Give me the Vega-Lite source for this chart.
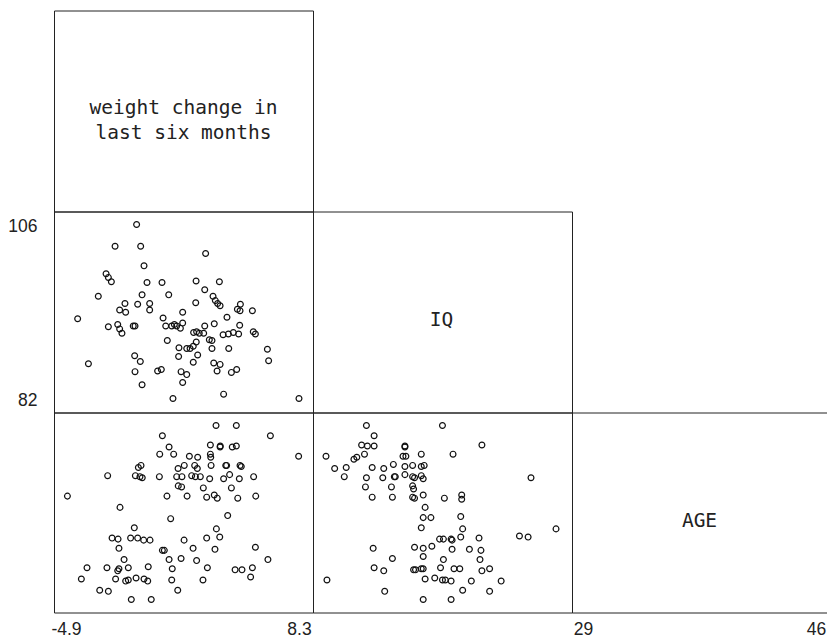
{
  "$schema": "https://vega.github.io/schema/vega-lite/v6.json",
  "padding": {"left": 7, "top": 9.5, "right": 0, "bottom": 0},
  "background": "white",
  "config": {
    "view": {"stroke": "#222", "strokeWidth": 1},
    "axis": {"domain": false, "ticks": false, "grid": false, "labelFont": "Liberation Sans", "labelFontSize": 17.5, "labelColor": "#222", "title": null},
    "text": {"font": "DejaVu Sans Mono", "fontSize": 19.5, "color": "#222"}
  },
  "datasets": {
    "wiq": [
      {"w": -0.9, "iq": 106.0}, {"w": -2.12, "iq": 103.0}, {"w": -0.67, "iq": 103.0}, {"w": 3.01, "iq": 102.0}, {"w": -0.48, "iq": 100.3},
      {"w": -2.63, "iq": 99.2}, {"w": -2.5, "iq": 98.7}, {"w": -2.33, "iq": 98.1}, {"w": -0.31, "iq": 98.0}, {"w": 0.54, "iq": 98.0},
      {"w": 2.47, "iq": 98.2}, {"w": 3.79, "iq": 98.1}, {"w": 2.96, "iq": 97.0}, {"w": -0.59, "iq": 96.3}, {"w": 0.92, "iq": 96.3},
      {"w": -3.07, "iq": 96.1}, {"w": 3.43, "iq": 96.1}, {"w": 3.56, "iq": 95.5}, {"w": 3.69, "iq": 95.1}, {"w": 3.83, "iq": 94.8},
      {"w": -1.56, "iq": 95.1}, {"w": -0.84, "iq": 95.0}, {"w": -0.16, "iq": 95.1}, {"w": 2.45, "iq": 95.2}, {"w": 4.98, "iq": 95.0},
      {"w": 4.81, "iq": 94.3}, {"w": 4.96, "iq": 94.1}, {"w": 5.66, "iq": 94.1}, {"w": -1.86, "iq": 94.2}, {"w": -1.52, "iq": 93.9},
      {"w": -0.16, "iq": 94.2}, {"w": 1.71, "iq": 93.9}, {"w": -4.24, "iq": 93.0}, {"w": 0.6, "iq": 93.1}, {"w": 4.22, "iq": 93.2},
      {"w": -2.5, "iq": 91.9}, {"w": -1.97, "iq": 92.2}, {"w": -1.86, "iq": 91.6}, {"w": -1.73, "iq": 91.0}, {"w": -1.09, "iq": 92.0},
      {"w": -0.99, "iq": 92.0}, {"w": 0.75, "iq": 92.0}, {"w": 1.09, "iq": 92.0}, {"w": 1.24, "iq": 92.2}, {"w": 1.37, "iq": 92.0},
      {"w": 1.58, "iq": 91.7}, {"w": 1.71, "iq": 92.4}, {"w": 2.96, "iq": 92.0}, {"w": 3.5, "iq": 92.3}, {"w": 4.94, "iq": 92.1},
      {"w": 2.33, "iq": 91.1}, {"w": 2.5, "iq": 91.2}, {"w": 2.65, "iq": 91.0}, {"w": 2.9, "iq": 91.0}, {"w": 4.0, "iq": 90.8},
      {"w": 4.3, "iq": 90.9}, {"w": 4.58, "iq": 91.1}, {"w": 4.88, "iq": 90.9}, {"w": 5.71, "iq": 91.2}, {"w": 5.83, "iq": 90.9},
      {"w": 3.22, "iq": 90.1}, {"w": 3.37, "iq": 90.0}, {"w": 2.48, "iq": 89.8}, {"w": 0.84, "iq": 90.0}, {"w": 1.5, "iq": 89.0},
      {"w": 1.94, "iq": 88.9}, {"w": 2.13, "iq": 88.9}, {"w": 2.31, "iq": 89.2}, {"w": 3.37, "iq": 88.9}, {"w": 4.32, "iq": 88.9},
      {"w": 6.51, "iq": 88.8}, {"w": -1.01, "iq": 87.9}, {"w": 1.48, "iq": 87.8}, {"w": 2.56, "iq": 88.0}, {"w": -3.63, "iq": 86.8},
      {"w": -0.69, "iq": 87.1}, {"w": 2.31, "iq": 87.0}, {"w": 3.47, "iq": 86.9}, {"w": 3.83, "iq": 86.7}, {"w": 6.58, "iq": 87.2},
      {"w": -0.99, "iq": 85.7}, {"w": 0.29, "iq": 85.8}, {"w": 0.5, "iq": 86.0}, {"w": 1.62, "iq": 85.7}, {"w": 1.94, "iq": 85.3},
      {"w": 3.66, "iq": 85.8}, {"w": 4.47, "iq": 85.6}, {"w": 4.77, "iq": 86.0}, {"w": 1.71, "iq": 84.2}, {"w": -0.59, "iq": 83.9},
      {"w": 4.03, "iq": 82.6}, {"w": 1.16, "iq": 82.0}, {"w": 8.3, "iq": 82.0}
    ],
    "wage": [
      {"w": 3.6, "age": 46.0}, {"w": 4.75, "age": 46.0}, {"w": 0.56, "age": 45.0}, {"w": 6.68, "age": 45.0}, {"w": 0.94, "age": 43.9},
      {"w": 3.28, "age": 44.1}, {"w": 3.84, "age": 44.0}, {"w": 3.83, "age": 43.9}, {"w": 4.52, "age": 43.9}, {"w": 4.75, "age": 44.0},
      {"w": 0.41, "age": 43.2}, {"w": 1.2, "age": 43.2}, {"w": 2.09, "age": 43.0}, {"w": 2.56, "age": 42.9}, {"w": 3.28, "age": 43.2},
      {"w": 3.3, "age": 42.9}, {"w": 8.28, "age": 43.0}, {"w": -0.8, "age": 41.9}, {"w": -0.65, "age": 42.1}, {"w": 1.8, "age": 42.1},
      {"w": 2.39, "age": 42.1}, {"w": 2.54, "age": 41.8}, {"w": 1.45, "age": 41.8}, {"w": 3.32, "age": 42.1}, {"w": 4.15, "age": 42.1},
      {"w": 4.2, "age": 42.1}, {"w": 4.96, "age": 42.1}, {"w": 5.03, "age": 42.0}, {"w": -2.54, "age": 41.1}, {"w": -0.97, "age": 41.1},
      {"w": -0.71, "age": 41.0}, {"w": -0.58, "age": 40.9}, {"w": 0.39, "age": 41.0}, {"w": 1.37, "age": 41.0}, {"w": 1.67, "age": 41.0},
      {"w": 2.22, "age": 41.1}, {"w": 2.43, "age": 41.0}, {"w": 2.71, "age": 41.0}, {"w": 3.24, "age": 40.8}, {"w": 4.03, "age": 40.8},
      {"w": 4.37, "age": 41.2}, {"w": 4.92, "age": 40.8}, {"w": 5.73, "age": 41.0}, {"w": 1.46, "age": 40.1}, {"w": 1.65, "age": 40.0},
      {"w": 2.88, "age": 39.9}, {"w": 4.47, "age": 39.9}, {"w": -4.82, "age": 39.1}, {"w": 0.82, "age": 39.1}, {"w": 1.96, "age": 39.1},
      {"w": 3.07, "age": 39.0}, {"w": 3.5, "age": 39.2}, {"w": 3.67, "age": 38.9}, {"w": 4.83, "age": 38.9}, {"w": 5.85, "age": 39.1},
      {"w": -1.84, "age": 38.0}, {"w": 1.03, "age": 36.9}, {"w": 4.26, "age": 37.2}, {"w": -1.03, "age": 36.0}, {"w": 3.62, "age": 35.9},
      {"w": -2.29, "age": 35.0}, {"w": -1.95, "age": 34.9}, {"w": -1.24, "age": 35.0}, {"w": -0.84, "age": 35.0}, {"w": -0.5, "age": 34.8},
      {"w": -0.14, "age": 34.8}, {"w": 1.79, "age": 34.8}, {"w": 3.07, "age": 35.0}, {"w": 3.81, "age": 35.1}, {"w": -1.9, "age": 34.0},
      {"w": 0.56, "age": 33.8}, {"w": 0.67, "age": 33.8}, {"w": 2.3, "age": 34.0}, {"w": 3.54, "age": 33.9}, {"w": 5.83, "age": 34.1},
      {"w": -1.61, "age": 32.9}, {"w": 0.94, "age": 32.9}, {"w": 1.62, "age": 33.0}, {"w": 2.5, "age": 32.8}, {"w": 6.54, "age": 32.9},
      {"w": -3.71, "age": 32.1}, {"w": -2.58, "age": 32.1}, {"w": -1.97, "age": 31.8}, {"w": -1.9, "age": 32.0}, {"w": -1.37, "age": 32.1},
      {"w": -0.24, "age": 32.2}, {"w": 1.12, "age": 32.0}, {"w": 3.11, "age": 32.1}, {"w": 4.68, "age": 31.9}, {"w": 5.07, "age": 31.9},
      {"w": 5.66, "age": 32.1}, {"w": -4.03, "age": 31.0}, {"w": -2.09, "age": 31.0}, {"w": -1.52, "age": 30.8}, {"w": -1.37, "age": 30.9},
      {"w": -0.93, "age": 31.1}, {"w": -0.48, "age": 31.0}, {"w": -0.27, "age": 30.8}, {"w": 1.09, "age": 30.9}, {"w": 2.86, "age": 30.9},
      {"w": 5.56, "age": 31.2}, {"w": -2.99, "age": 29.9}, {"w": -2.5, "age": 29.8}, {"w": 1.43, "age": 29.9}, {"w": -1.2, "age": 29.0},
      {"w": -0.07, "age": 29.0}
    ],
    "iqage": [
      {"iq": 86.2, "age": 46.0}, {"iq": 94.1, "age": 46.0}, {"iq": 87.0, "age": 45.0}, {"iq": 85.7, "age": 44.1}, {"iq": 86.3, "age": 44.0},
      {"iq": 87.0, "age": 44.0}, {"iq": 90.2, "age": 44.0}, {"iq": 90.2, "age": 43.9}, {"iq": 98.2, "age": 44.1}, {"iq": 86.0, "age": 43.2},
      {"iq": 90.0, "age": 43.0}, {"iq": 90.3, "age": 43.0}, {"iq": 91.9, "age": 43.2}, {"iq": 95.2, "age": 43.2}, {"iq": 82.0, "age": 43.0},
      {"iq": 84.9, "age": 42.7}, {"iq": 85.2, "age": 42.9}, {"iq": 82.9, "age": 41.8}, {"iq": 84.1, "age": 41.9}, {"iq": 86.8, "age": 41.9},
      {"iq": 88.0, "age": 41.8}, {"iq": 89.0, "age": 42.2}, {"iq": 90.2, "age": 42.0}, {"iq": 91.0, "age": 42.1}, {"iq": 91.9, "age": 42.0},
      {"iq": 92.2, "age": 42.1}, {"iq": 83.9, "age": 41.0}, {"iq": 86.2, "age": 40.9}, {"iq": 87.9, "age": 40.9}, {"iq": 89.1, "age": 41.0},
      {"iq": 89.2, "age": 41.0}, {"iq": 90.2, "age": 41.2}, {"iq": 91.0, "age": 41.0}, {"iq": 91.2, "age": 40.9}, {"iq": 91.9, "age": 41.1},
      {"iq": 92.1, "age": 40.8}, {"iq": 86.1, "age": 40.0}, {"iq": 88.8, "age": 40.0}, {"iq": 91.0, "age": 40.1}, {"iq": 91.1, "age": 39.8},
      {"iq": 103.3, "age": 40.9}, {"iq": 86.8, "age": 39.0}, {"iq": 88.9, "age": 39.0}, {"iq": 91.0, "age": 39.0}, {"iq": 91.2, "age": 38.9},
      {"iq": 92.1, "age": 39.2}, {"iq": 94.3, "age": 38.9}, {"iq": 96.1, "age": 39.2}, {"iq": 96.1, "age": 38.8}, {"iq": 92.3, "age": 38.0},
      {"iq": 92.1, "age": 37.0}, {"iq": 92.9, "age": 37.0}, {"iq": 96.0, "age": 37.1}, {"iq": 91.9, "age": 36.0}, {"iq": 96.2, "age": 35.9},
      {"iq": 105.9, "age": 35.9}, {"iq": 93.8, "age": 34.9}, {"iq": 94.2, "age": 34.9}, {"iq": 95.0, "age": 34.9}, {"iq": 95.1, "age": 34.8},
      {"iq": 96.0, "age": 35.1}, {"iq": 97.9, "age": 35.0}, {"iq": 102.1, "age": 35.2}, {"iq": 103.0, "age": 35.1}, {"iq": 86.9, "age": 34.0},
      {"iq": 91.2, "age": 34.1}, {"iq": 92.1, "age": 34.0}, {"iq": 93.0, "age": 34.2}, {"iq": 95.1, "age": 33.9}, {"iq": 96.9, "age": 33.9},
      {"iq": 98.1, "age": 33.8}, {"iq": 88.9, "age": 33.0}, {"iq": 92.1, "age": 33.2}, {"iq": 94.2, "age": 32.9}, {"iq": 98.0, "age": 32.9},
      {"iq": 87.0, "age": 32.1}, {"iq": 88.0, "age": 31.8}, {"iq": 91.1, "age": 31.9}, {"iq": 91.3, "age": 31.9}, {"iq": 91.9, "age": 32.0},
      {"iq": 92.1, "age": 32.0}, {"iq": 93.9, "age": 32.1}, {"iq": 95.3, "age": 32.0}, {"iq": 95.9, "age": 32.0}, {"iq": 98.2, "age": 31.8},
      {"iq": 99.0, "age": 32.0}, {"iq": 82.1, "age": 30.9}, {"iq": 92.3, "age": 31.0}, {"iq": 93.3, "age": 31.1}, {"iq": 94.1, "age": 30.9},
      {"iq": 94.4, "age": 30.9}, {"iq": 95.0, "age": 30.8}, {"iq": 97.1, "age": 30.8}, {"iq": 100.2, "age": 30.8}, {"iq": 88.1, "age": 29.8},
      {"iq": 96.2, "age": 29.9}, {"iq": 99.0, "age": 29.8}, {"iq": 92.1, "age": 29.0}, {"iq": 95.0, "age": 29.0}
    ]
  },
  "columns": 3,
  "spacing": 0,
  "bounds": "flush",
  "resolve": {"scale": {"x": "independent", "y": "independent"}},
  "concat": [
    {
      "width": 259, "height": 201,
      "data": {"values": [{"label": "weight change in\nlast six months"}]},
      "mark": {"type": "text", "baseline": "middle", "align": "center", "lineBreak": "\n", "lineHeight": 24.5, "dy": -3},
      "encoding": {
        "text": {"field": "label", "type": "nominal"},
        "x": {"datum": 0.5, "type": "quantitative", "scale": {"domain": [0, 1], "nice": false, "zero": false}, "axis": null},
        "y": {"datum": 0.5, "type": "quantitative", "scale": {"domain": [0, 1], "nice": false, "zero": false}, "axis": null}
      }
    },
    {"width": 259, "height": 201, "view": {"stroke": null}, "data": {"values": []}, "mark": "text", "encoding": {}},
    {"width": 255, "height": 201, "view": {"stroke": null}, "data": {"values": []}, "mark": "text", "encoding": {}},
    {
      "width": 259, "height": 201,
      "data": {"name": "wiq"},
      "mark": {"type": "point", "shape": "circle", "filled": false, "size": 34, "stroke": "#111", "strokeWidth": 1.2, "opacity": 1},
      "encoding": {
        "x": {"field": "w", "type": "quantitative", "scale": {"domain": [-5.58, 9.094], "nice": false, "zero": false}, "axis": null},
        "y": {"field": "iq", "type": "quantitative", "scale": {"domain": [80.07, 107.79], "nice": false, "zero": false}, "axis": {"values": [82, 106], "labelPadding": 17, "labelOffset": 2}}
      }
    },
    {
      "width": 259, "height": 201,
      "data": {"values": [{"label": "IQ"}]},
      "mark": {"type": "text", "baseline": "middle", "align": "center", "dy": 8, "dx": -1},
      "encoding": {
        "text": {"field": "label", "type": "nominal"},
        "x": {"datum": 0.5, "type": "quantitative", "scale": {"domain": [0, 1], "nice": false, "zero": false}, "axis": null},
        "y": {"datum": 0.5, "type": "quantitative", "scale": {"domain": [0, 1], "nice": false, "zero": false}, "axis": null}
      }
    },
    {"width": 255, "height": 201, "view": {"stroke": null}, "data": {"values": []}, "mark": "text", "encoding": {}},
    {
      "width": 259, "height": 200,
      "data": {"name": "wage"},
      "mark": {"type": "point", "shape": "circle", "filled": false, "size": 34, "stroke": "#111", "strokeWidth": 1.2, "opacity": 1},
      "encoding": {
        "x": {"field": "w", "type": "quantitative", "scale": {"domain": [-5.58, 9.094], "nice": false, "zero": false}, "axis": {"values": [-4.9, 8.3], "labelPadding": 8, "labelExpr": "'' + datum.value"}},
        "y": {"field": "age", "type": "quantitative", "scale": {"domain": [27.73, 47.27], "nice": false, "zero": false}, "axis": null}
      }
    },
    {
      "width": 259, "height": 200,
      "data": {"name": "iqage"},
      "mark": {"type": "point", "shape": "circle", "filled": false, "size": 34, "stroke": "#111", "strokeWidth": 1.2, "opacity": 1},
      "encoding": {
        "x": {"field": "iq", "type": "quantitative", "scale": {"domain": [80.65, 107.56], "nice": false, "zero": false}, "axis": null},
        "y": {"field": "age", "type": "quantitative", "scale": {"domain": [27.73, 47.27], "nice": false, "zero": false}, "axis": null}
      }
    },
    {
      "width": 255, "height": 200,
      "data": {"values": [{"label": "AGE"}]},
      "mark": {"type": "text", "baseline": "middle", "align": "center", "dy": 8},
      "encoding": {
        "text": {"field": "label", "type": "nominal"},
        "x": {"datum": 37.5, "type": "quantitative", "scale": {"domain": [28.2, 46.8], "nice": false, "zero": false}, "axis": {"values": [29, 46], "labelPadding": 8}},
        "y": {"datum": 0.5, "type": "quantitative", "scale": {"domain": [0, 1], "nice": false, "zero": false}, "axis": null}
      }
    }
  ]
}
